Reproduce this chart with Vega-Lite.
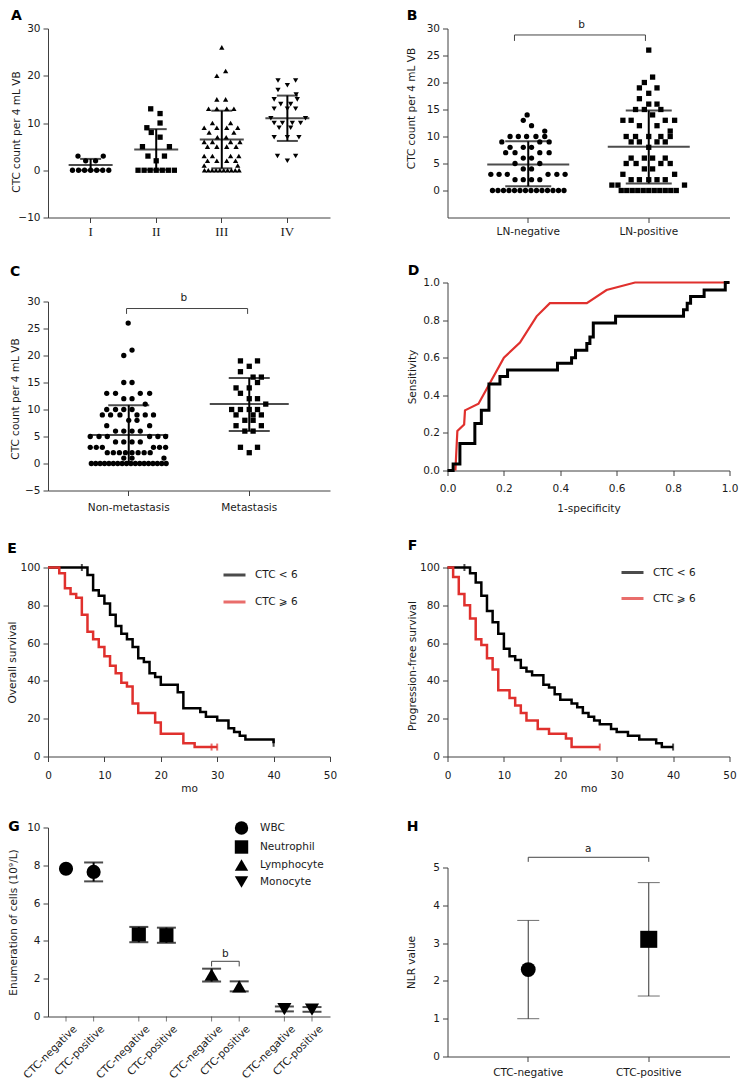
{
"$schema": "https://vega.github.io/schema/vega-lite/v6.json",
"background": "white",
"padding": {"left": 7, "top": 8.5, "right": 5, "bottom": 0},
"config": {
 "font": "DejaVu Sans",
 "view": {"stroke": null},
 "axis": {"grid": false, "labelFont": "DejaVu Sans", "titleFont": "DejaVu Sans", "labelFontSize": 10.5, "titleFontSize": 10.5, "titleFontWeight": "normal", "labelColor": "#1a1a1a", "titleColor": "#1a1a1a", "domainColor": "#404040", "tickColor": "#404040", "tickSize": 5, "labelPadding": 3, "labelFlush": false, "labelOverlap": false},
 "axisX": {"labelPadding": 4},
 "title": {"anchor": "start", "frame": "bounds", "font": "DejaVu Sans", "fontSize": 14, "fontWeight": "bold", "color": "#000", "baseline": "alphabetic"},
 "legend": {"labelFont": "DejaVu Sans", "labelFontSize": 10.5, "labelColor": "#1a1a1a"},
 "text": {"font": "DejaVu Sans", "fontSize": 10.5, "color": "#1a1a1a"}
},
"datasets": {
 "A_pts": [
  {"g":"I","v":0,"s":-3.3},{"g":"I","v":0,"s":-2.2},{"g":"I","v":0,"s":-1.1},{"g":"I","v":0,"s":0},{"g":"I","v":0,"s":1.1},{"g":"I","v":0,"s":2.2},{"g":"I","v":0,"s":3.3},{"g":"I","v":3,"s":-2.3},{"g":"I","v":3,"s":2.3},{"g":"I","v":2,"s":-0.9},{"g":"I","v":2,"s":0.9},
  {"g":"II","v":0,"s":-3.3},{"g":"II","v":0,"s":-2.2},{"g":"II","v":0,"s":-1.1},{"g":"II","v":0,"s":0},{"g":"II","v":0,"s":1.1},{"g":"II","v":0,"s":2.2},{"g":"II","v":0,"s":3.3},{"g":"II","v":13,"s":-1},{"g":"II","v":12,"s":0.7},{"g":"II","v":10,"s":0.7},{"g":"II","v":9,"s":-1.7},{"g":"II","v":8,"s":-0.9},{"g":"II","v":7,"s":0.7},{"g":"II","v":5,"s":-2.5},{"g":"II","v":5,"s":2.4},{"g":"II","v":3,"s":-1.5},{"g":"II","v":3,"s":1.5},{"g":"II","v":2,"s":0},
  {"g":"III","v":26,"s":0},{"g":"III","v":21,"s":0.7},{"g":"III","v":20,"s":-0.9},{"g":"III","v":15,"s":-0.9},{"g":"III","v":15,"s":0.7},{"g":"III","v":13,"s":-2.4},{"g":"III","v":13,"s":-0.9},{"g":"III","v":13,"s":0.9},{"g":"III","v":13,"s":2.2},{"g":"III","v":10,"s":-1.7},{"g":"III","v":10,"s":1.6},{"g":"III","v":9,"s":-3.2},{"g":"III","v":9,"s":-0.9},{"g":"III","v":9,"s":0.9},{"g":"III","v":9,"s":2.9},{"g":"III","v":8,"s":-2.3},{"g":"III","v":8,"s":2.2},{"g":"III","v":7,"s":-0.8},{"g":"III","v":7,"s":0.8},{"g":"III","v":6,"s":-3.2},{"g":"III","v":6,"s":-1.7},{"g":"III","v":6,"s":1.6},{"g":"III","v":6,"s":3.3},{"g":"III","v":5,"s":-2.6},{"g":"III","v":5,"s":-0.9},{"g":"III","v":5,"s":0.9},{"g":"III","v":5,"s":2.6},{"g":"III","v":3,"s":-3.2},{"g":"III","v":3,"s":-1.7},{"g":"III","v":3,"s":1.6},{"g":"III","v":3,"s":3.1},{"g":"III","v":2,"s":-2.6},{"g":"III","v":2,"s":-0.9},{"g":"III","v":2,"s":0.9},{"g":"III","v":2,"s":2.5},{"g":"III","v":1,"s":-3.2},{"g":"III","v":1,"s":2.9},{"g":"III","v":0,"s":-3.15},{"g":"III","v":0,"s":-2.45},{"g":"III","v":0,"s":-1.75},{"g":"III","v":0,"s":-1.05},{"g":"III","v":0,"s":-0.35},{"g":"III","v":0,"s":0.35},{"g":"III","v":0,"s":1.05},{"g":"III","v":0,"s":1.75},{"g":"III","v":0,"s":2.45},{"g":"III","v":0,"s":3.15},
  {"g":"IV","v":19,"s":-1.7},{"g":"IV","v":19,"s":1.5},{"g":"IV","v":18,"s":0},{"g":"IV","v":17,"s":-1.7},{"g":"IV","v":16,"s":1.6},{"g":"IV","v":15,"s":-2.4},{"g":"IV","v":15,"s":1.8},{"g":"IV","v":14,"s":-1.2},{"g":"IV","v":14,"s":0.6},{"g":"IV","v":13,"s":-2.4},{"g":"IV","v":13,"s":0},{"g":"IV","v":13,"s":1.5},{"g":"IV","v":11,"s":-3},{"g":"IV","v":11,"s":3.3},{"g":"IV","v":10,"s":-2.4},{"g":"IV","v":10,"s":-0.9},{"g":"IV","v":10,"s":0.9},{"g":"IV","v":10,"s":2.4},{"g":"IV","v":9,"s":-1.5},{"g":"IV","v":9,"s":0.6},{"g":"IV","v":7,"s":-2.4},{"g":"IV","v":7,"s":0},{"g":"IV","v":7,"s":2.1},{"g":"IV","v":3,"s":-1.8},{"g":"IV","v":3,"s":1.5},{"g":"IV","v":2,"s":0}
 ],
 "A_sum": [{"g":"I","mean":1.1,"lo":0,"hi":2.4},{"g":"II","mean":4.4,"lo":0.1,"hi":8.7},{"g":"III","mean":6.5,"lo":0.4,"hi":12.6},{"g":"IV","mean":11,"lo":6.2,"hi":15.8}],
 "B_pts": [
  {"g":"LN-negative","v":0,"s":-6.5},{"g":"LN-negative","v":0,"s":-5.5},{"g":"LN-negative","v":0,"s":-4.5},{"g":"LN-negative","v":0,"s":-3.5},{"g":"LN-negative","v":0,"s":-2.5},{"g":"LN-negative","v":0,"s":-1.5},{"g":"LN-negative","v":0,"s":-0.5},{"g":"LN-negative","v":0,"s":0.5},{"g":"LN-negative","v":0,"s":1.5},{"g":"LN-negative","v":0,"s":2.5},{"g":"LN-negative","v":0,"s":3.5},{"g":"LN-negative","v":0,"s":4.5},{"g":"LN-negative","v":0,"s":5.5},{"g":"LN-negative","v":0,"s":6.5},
  {"g":"LN-negative","v":2,"s":-2.4},{"g":"LN-negative","v":2,"s":-0.9},{"g":"LN-negative","v":2,"s":0.6},{"g":"LN-negative","v":2,"s":2.1},
  {"g":"LN-negative","v":3,"s":-6.8},{"g":"LN-negative","v":3,"s":-5.3},{"g":"LN-negative","v":3,"s":-3.8},{"g":"LN-negative","v":3,"s":3.6},{"g":"LN-negative","v":3,"s":5.2},{"g":"LN-negative","v":3,"s":6.7},
  {"g":"LN-negative","v":4,"s":-0.9},{"g":"LN-negative","v":4,"s":0.6},{"g":"LN-negative","v":5,"s":-2.4},{"g":"LN-negative","v":5,"s":2.1},{"g":"LN-negative","v":6,"s":-0.9},{"g":"LN-negative","v":6,"s":0.6},
  {"g":"LN-negative","v":7,"s":-4.1},{"g":"LN-negative","v":7,"s":-2.4},{"g":"LN-negative","v":7,"s":2.1},{"g":"LN-negative","v":7,"s":3.8},
  {"g":"LN-negative","v":8,"s":-3.3},{"g":"LN-negative","v":8,"s":-0.9},{"g":"LN-negative","v":8,"s":0.6},
  {"g":"LN-negative","v":9,"s":-4.8},{"g":"LN-negative","v":9,"s":2.1},{"g":"LN-negative","v":9,"s":3.8},
  {"g":"LN-negative","v":10,"s":-3.3},{"g":"LN-negative","v":10,"s":-1.8},{"g":"LN-negative","v":10,"s":-0.3},{"g":"LN-negative","v":10,"s":1.4},{"g":"LN-negative","v":10,"s":3.0},
  {"g":"LN-negative","v":11,"s":3.0},{"g":"LN-negative","v":12,"s":0.6},{"g":"LN-negative","v":13,"s":-0.9},{"g":"LN-negative","v":14,"s":-0.2},
  {"g":"LN-positive","v":26,"s":0},{"g":"LN-positive","v":21,"s":0.7},{"g":"LN-positive","v":20,"s":-0.8},{"g":"LN-positive","v":19,"s":-1.7},{"g":"LN-positive","v":19,"s":1.5},{"g":"LN-positive","v":18,"s":0},{"g":"LN-positive","v":17,"s":-1.7},{"g":"LN-positive","v":16,"s":0},{"g":"LN-positive","v":16,"s":1.5},
  {"g":"LN-positive","v":15,"s":-2.4},{"g":"LN-positive","v":15,"s":-0.8},{"g":"LN-positive","v":15,"s":2.2},{"g":"LN-positive","v":14,"s":0.7},
  {"g":"LN-positive","v":13,"s":-4.7},{"g":"LN-positive","v":13,"s":-3.2},{"g":"LN-positive","v":13,"s":3.0},{"g":"LN-positive","v":13,"s":4.7},
  {"g":"LN-positive","v":12,"s":-1.7},{"g":"LN-positive","v":12,"s":1.5},{"g":"LN-positive","v":11,"s":3.9},
  {"g":"LN-positive","v":10,"s":-4.1},{"g":"LN-positive","v":10,"s":-2.4},{"g":"LN-positive","v":10,"s":0},{"g":"LN-positive","v":10,"s":2.2},{"g":"LN-positive","v":10,"s":3.9},
  {"g":"LN-positive","v":9,"s":-3.2},{"g":"LN-positive","v":9,"s":-1.7},{"g":"LN-positive","v":9,"s":1.5},{"g":"LN-positive","v":9,"s":3.0},{"g":"LN-positive","v":8,"s":0},
  {"g":"LN-positive","v":6,"s":-3.2},{"g":"LN-positive","v":6,"s":-0.8},{"g":"LN-positive","v":6,"s":0.7},{"g":"LN-positive","v":6,"s":3.0},
  {"g":"LN-positive","v":5,"s":-4.1},{"g":"LN-positive","v":5,"s":-2.3},{"g":"LN-positive","v":5,"s":2.2},{"g":"LN-positive","v":5,"s":3.9},
  {"g":"LN-positive","v":4,"s":-0.8},{"g":"LN-positive","v":4,"s":0.7},{"g":"LN-positive","v":3,"s":-4.7},{"g":"LN-positive","v":3,"s":4.7},
  {"g":"LN-positive","v":2,"s":-3.2},{"g":"LN-positive","v":2,"s":-1.7},{"g":"LN-positive","v":2,"s":0},{"g":"LN-positive","v":2,"s":1.5},{"g":"LN-positive","v":2,"s":3.0},
  {"g":"LN-positive","v":1,"s":-6.7},{"g":"LN-positive","v":1,"s":-5.6},{"g":"LN-positive","v":1,"s":6.5},
  {"g":"LN-positive","v":0,"s":-5},{"g":"LN-positive","v":0,"s":-4},{"g":"LN-positive","v":0,"s":-3},{"g":"LN-positive","v":0,"s":-2},{"g":"LN-positive","v":0,"s":-1},{"g":"LN-positive","v":0,"s":0},{"g":"LN-positive","v":0,"s":1},{"g":"LN-positive","v":0,"s":2},{"g":"LN-positive","v":0,"s":3},{"g":"LN-positive","v":0,"s":4},{"g":"LN-positive","v":0,"s":5}
 ],
 "B_sum": [{"g":"LN-negative","mean":4.8,"lo":0.8,"hi":9.1},{"g":"LN-positive","mean":8.1,"lo":1.3,"hi":14.8}],
 "B_br": [{"g":"LN-negative","s":-2.5,"y":27.7,"k":1},{"g":"LN-negative","s":-2.5,"y":28.8,"k":2},{"g":"LN-positive","s":-0.6,"y":28.8,"k":3},{"g":"LN-positive","s":-0.6,"y":27.7,"k":4}],
 "B_lbl": [{"g":"LN-negative","s":9.7,"y":30.6,"t":"b"}],
 "C_pts": [
  {"g":"Non-metastasis","v":26,"s":-0.1},{"g":"Non-metastasis","v":21,"s":0.6},{"g":"Non-metastasis","v":20,"s":-0.9},{"g":"Non-metastasis","v":15,"s":-0.9},{"g":"Non-metastasis","v":15,"s":0.6},
  {"g":"Non-metastasis","v":13,"s":-4},{"g":"Non-metastasis","v":13,"s":-2.4},{"g":"Non-metastasis","v":13,"s":2.1},{"g":"Non-metastasis","v":13,"s":3.8},
  {"g":"Non-metastasis","v":12,"s":-0.9},{"g":"Non-metastasis","v":12,"s":0.6},{"g":"Non-metastasis","v":11,"s":3.0},
  {"g":"Non-metastasis","v":10,"s":-4},{"g":"Non-metastasis","v":10,"s":-2.4},{"g":"Non-metastasis","v":10,"s":-0.9},{"g":"Non-metastasis","v":10,"s":0.6},
  {"g":"Non-metastasis","v":9,"s":-4.8},{"g":"Non-metastasis","v":9,"s":-3.3},{"g":"Non-metastasis","v":9,"s":-1.6},{"g":"Non-metastasis","v":9,"s":1.5},{"g":"Non-metastasis","v":9,"s":3.0},{"g":"Non-metastasis","v":9,"s":4.5},
  {"g":"Non-metastasis","v":8,"s":0},{"g":"Non-metastasis","v":8,"s":1.5},{"g":"Non-metastasis","v":7,"s":-4},{"g":"Non-metastasis","v":7,"s":3.8},
  {"g":"Non-metastasis","v":6,"s":-2.4},{"g":"Non-metastasis","v":6,"s":-0.9},{"g":"Non-metastasis","v":6,"s":0.6},{"g":"Non-metastasis","v":6,"s":2.1},
  {"g":"Non-metastasis","v":5,"s":-7},{"g":"Non-metastasis","v":5,"s":-5.4},{"g":"Non-metastasis","v":5,"s":-3.9},{"g":"Non-metastasis","v":5,"s":3.8},{"g":"Non-metastasis","v":5,"s":5.3},{"g":"Non-metastasis","v":5,"s":6.7},
  {"g":"Non-metastasis","v":4,"s":-2.4},{"g":"Non-metastasis","v":4,"s":-0.9},{"g":"Non-metastasis","v":4,"s":0.6},{"g":"Non-metastasis","v":4,"s":2.1},
  {"g":"Non-metastasis","v":3,"s":-7},{"g":"Non-metastasis","v":3,"s":-5.9},{"g":"Non-metastasis","v":3,"s":-4.8},{"g":"Non-metastasis","v":3,"s":4.5},{"g":"Non-metastasis","v":3,"s":5.6},{"g":"Non-metastasis","v":3,"s":6.7},
  {"g":"Non-metastasis","v":2,"s":-3.9},{"g":"Non-metastasis","v":2,"s":-2.8},{"g":"Non-metastasis","v":2,"s":-1.7},{"g":"Non-metastasis","v":2,"s":-0.6},{"g":"Non-metastasis","v":2,"s":0.6},{"g":"Non-metastasis","v":2,"s":1.7},{"g":"Non-metastasis","v":2,"s":2.8},{"g":"Non-metastasis","v":2,"s":3.9},
  {"g":"Non-metastasis","v":1,"s":-0.9},{"g":"Non-metastasis","v":1,"s":0.6},{"g":"Non-metastasis","v":1,"s":6.4},
  {"g":"Non-metastasis","v":0,"s":-6.8},{"g":"Non-metastasis","v":0,"s":-6.0},{"g":"Non-metastasis","v":0,"s":-5.2},{"g":"Non-metastasis","v":0,"s":-4.4},{"g":"Non-metastasis","v":0,"s":-3.6},{"g":"Non-metastasis","v":0,"s":-2.8},{"g":"Non-metastasis","v":0,"s":-2.0},{"g":"Non-metastasis","v":0,"s":-1.2},{"g":"Non-metastasis","v":0,"s":-0.4},{"g":"Non-metastasis","v":0,"s":0.4},{"g":"Non-metastasis","v":0,"s":1.2},{"g":"Non-metastasis","v":0,"s":2.0},{"g":"Non-metastasis","v":0,"s":2.8},{"g":"Non-metastasis","v":0,"s":3.6},{"g":"Non-metastasis","v":0,"s":4.4},{"g":"Non-metastasis","v":0,"s":5.2},{"g":"Non-metastasis","v":0,"s":6.0},{"g":"Non-metastasis","v":0,"s":6.8},
  {"g":"Metastasis","v":19,"s":-1.6},{"g":"Metastasis","v":19,"s":1.5},{"g":"Metastasis","v":18,"s":0},{"g":"Metastasis","v":17,"s":-1.6},{"g":"Metastasis","v":16,"s":0.7},{"g":"Metastasis","v":16,"s":2.2},{"g":"Metastasis","v":15,"s":1.5},
  {"g":"Metastasis","v":14,"s":-2.4},{"g":"Metastasis","v":14,"s":0},{"g":"Metastasis","v":13,"s":-1.6},{"g":"Metastasis","v":12,"s":0},{"g":"Metastasis","v":12,"s":1.5},{"g":"Metastasis","v":11,"s":3.0},
  {"g":"Metastasis","v":10,"s":-3.2},{"g":"Metastasis","v":10,"s":-1.6},{"g":"Metastasis","v":10,"s":0},{"g":"Metastasis","v":10,"s":1.5},
  {"g":"Metastasis","v":9,"s":-2.4},{"g":"Metastasis","v":9,"s":0.7},{"g":"Metastasis","v":9,"s":2.2},{"g":"Metastasis","v":8,"s":-0.8},{"g":"Metastasis","v":8,"s":0.7},
  {"g":"Metastasis","v":7,"s":-2.4},{"g":"Metastasis","v":7,"s":2.2},{"g":"Metastasis","v":6,"s":-0.8},{"g":"Metastasis","v":6,"s":0.7},{"g":"Metastasis","v":3,"s":-1.6},{"g":"Metastasis","v":3,"s":1.5},{"g":"Metastasis","v":2,"s":0}
 ],
 "C_sum": [{"g":"Non-metastasis","mean":5.3,"lo":0,"hi":10.8},{"g":"Metastasis","mean":11,"lo":6,"hi":15.85}],
 "C_br": [{"g":"Non-metastasis","s":-0.4,"y":27.7,"k":1},{"g":"Non-metastasis","s":-0.4,"y":28.7,"k":2},{"g":"Metastasis","s":-0.3,"y":28.7,"k":3},{"g":"Metastasis","s":-0.3,"y":27.7,"k":4}],
 "C_lbl": [{"g":"Non-metastasis","s":10,"y":30.6,"t":"b"}],
 "D_black": [{"x":0,"y":0},{"x":0.02,"y":0.035},{"x":0.044,"y":0.143},{"x":0.097,"y":0.25},{"x":0.12,"y":0.32},{"x":0.147,"y":0.46},{"x":0.186,"y":0.5},{"x":0.213,"y":0.535},{"x":0.39,"y":0.57},{"x":0.44,"y":0.6},{"x":0.454,"y":0.64},{"x":0.494,"y":0.675},{"x":0.505,"y":0.71},{"x":0.517,"y":0.785},{"x":0.596,"y":0.82},{"x":0.837,"y":0.855},{"x":0.85,"y":0.89},{"x":0.862,"y":0.925},{"x":0.91,"y":0.96},{"x":0.985,"y":1},{"x":1,"y":1}],
 "D_red": [{"x":0.028,"y":0},{"x":0.035,"y":0.21},{"x":0.059,"y":0.245},{"x":0.062,"y":0.32},{"x":0.11,"y":0.355},{"x":0.2,"y":0.6},{"x":0.257,"y":0.68},{"x":0.316,"y":0.82},{"x":0.363,"y":0.89},{"x":0.494,"y":0.89},{"x":0.564,"y":0.96},{"x":0.665,"y":1},{"x":1,"y":1}],
 "E_km": [
  {"g":"CTC < 6","t":0,"s":100},{"g":"CTC < 6","t":7,"s":96},{"g":"CTC < 6","t":8,"s":88},{"g":"CTC < 6","t":9,"s":85},{"g":"CTC < 6","t":10,"s":81},{"g":"CTC < 6","t":11,"s":75},{"g":"CTC < 6","t":12,"s":69},{"g":"CTC < 6","t":13,"s":65},{"g":"CTC < 6","t":14,"s":62},{"g":"CTC < 6","t":15,"s":58},{"g":"CTC < 6","t":16,"s":52},{"g":"CTC < 6","t":17,"s":50},{"g":"CTC < 6","t":18,"s":44},{"g":"CTC < 6","t":19,"s":42},{"g":"CTC < 6","t":20,"s":38},{"g":"CTC < 6","t":23,"s":34},{"g":"CTC < 6","t":24,"s":25.5},{"g":"CTC < 6","t":27,"s":23.5},{"g":"CTC < 6","t":28,"s":21},{"g":"CTC < 6","t":30,"s":19},{"g":"CTC < 6","t":32,"s":15},{"g":"CTC < 6","t":33,"s":13},{"g":"CTC < 6","t":34,"s":11},{"g":"CTC < 6","t":35,"s":9},{"g":"CTC < 6","t":40,"s":7},
  {"g":"CTC ⩾ 6","t":0,"s":100},{"g":"CTC ⩾ 6","t":2,"s":97},{"g":"CTC ⩾ 6","t":3,"s":89},{"g":"CTC ⩾ 6","t":4,"s":86},{"g":"CTC ⩾ 6","t":5,"s":84},{"g":"CTC ⩾ 6","t":6,"s":75},{"g":"CTC ⩾ 6","t":7,"s":66},{"g":"CTC ⩾ 6","t":8,"s":62},{"g":"CTC ⩾ 6","t":9,"s":58},{"g":"CTC ⩾ 6","t":10,"s":53},{"g":"CTC ⩾ 6","t":11,"s":48},{"g":"CTC ⩾ 6","t":12,"s":44},{"g":"CTC ⩾ 6","t":13,"s":39},{"g":"CTC ⩾ 6","t":14,"s":37},{"g":"CTC ⩾ 6","t":15,"s":28},{"g":"CTC ⩾ 6","t":16,"s":23},{"g":"CTC ⩾ 6","t":19,"s":18},{"g":"CTC ⩾ 6","t":20,"s":12},{"g":"CTC ⩾ 6","t":24,"s":7},{"g":"CTC ⩾ 6","t":26,"s":5},{"g":"CTC ⩾ 6","t":30,"s":5}
 ],
 "E_cens": [{"g":"CTC < 6","t":6,"s":100},{"g":"CTC < 6","t":40,"s":7},{"g":"CTC ⩾ 6","t":29,"s":5},{"g":"CTC ⩾ 6","t":30,"s":5}],
 "F_km": [
  {"g":"CTC < 6","t":0,"s":100},{"g":"CTC < 6","t":4,"s":97},{"g":"CTC < 6","t":5,"s":92},{"g":"CTC < 6","t":6,"s":85},{"g":"CTC < 6","t":7,"s":77},{"g":"CTC < 6","t":8,"s":71},{"g":"CTC < 6","t":9,"s":65},{"g":"CTC < 6","t":10,"s":57},{"g":"CTC < 6","t":11,"s":53},{"g":"CTC < 6","t":12,"s":51},{"g":"CTC < 6","t":13,"s":47},{"g":"CTC < 6","t":14,"s":45},{"g":"CTC < 6","t":15,"s":43},{"g":"CTC < 6","t":17,"s":38},{"g":"CTC < 6","t":18,"s":36.5},{"g":"CTC < 6","t":19,"s":33},{"g":"CTC < 6","t":20,"s":30},{"g":"CTC < 6","t":22,"s":28},{"g":"CTC < 6","t":23,"s":26},{"g":"CTC < 6","t":24,"s":23},{"g":"CTC < 6","t":25,"s":21},{"g":"CTC < 6","t":26,"s":19},{"g":"CTC < 6","t":27,"s":17},{"g":"CTC < 6","t":29,"s":14.5},{"g":"CTC < 6","t":30,"s":13},{"g":"CTC < 6","t":32,"s":11},{"g":"CTC < 6","t":34,"s":9},{"g":"CTC < 6","t":37,"s":7},{"g":"CTC < 6","t":38,"s":5},{"g":"CTC < 6","t":40,"s":5},
  {"g":"CTC ⩾ 6","t":0,"s":100},{"g":"CTC ⩾ 6","t":1,"s":95},{"g":"CTC ⩾ 6","t":2,"s":86},{"g":"CTC ⩾ 6","t":3,"s":80},{"g":"CTC ⩾ 6","t":4,"s":73},{"g":"CTC ⩾ 6","t":5,"s":62},{"g":"CTC ⩾ 6","t":6,"s":59},{"g":"CTC ⩾ 6","t":7,"s":52},{"g":"CTC ⩾ 6","t":8,"s":46},{"g":"CTC ⩾ 6","t":9,"s":35},{"g":"CTC ⩾ 6","t":11,"s":31},{"g":"CTC ⩾ 6","t":12,"s":27},{"g":"CTC ⩾ 6","t":13,"s":23},{"g":"CTC ⩾ 6","t":14,"s":19},{"g":"CTC ⩾ 6","t":16,"s":14.5},{"g":"CTC ⩾ 6","t":18,"s":12},{"g":"CTC ⩾ 6","t":21,"s":9.5},{"g":"CTC ⩾ 6","t":22,"s":5},{"g":"CTC ⩾ 6","t":27,"s":5}
 ],
 "F_cens": [{"g":"CTC < 6","t":3,"s":100},{"g":"CTC < 6","t":40,"s":5},{"g":"CTC ⩾ 6","t":27,"s":5}],
 "G_pts": [{"cell":"WBC","status":"CTC-negative","mean":7.82},{"cell":"WBC","status":"CTC-positive","mean":7.65},{"cell":"Neutrophil","status":"CTC-negative","mean":4.34},{"cell":"Neutrophil","status":"CTC-positive","mean":4.3},{"cell":"Lymphocyte","status":"CTC-negative","mean":2.21},{"cell":"Lymphocyte","status":"CTC-positive","mean":1.6},{"cell":"Monocyte","status":"CTC-negative","mean":0.39},{"cell":"Monocyte","status":"CTC-positive","mean":0.37}],
 "G_err": [{"cell":"WBC","status":"CTC-positive","lo":7.15,"hi":8.15},{"cell":"Neutrophil","status":"CTC-negative","lo":3.93,"hi":4.74},{"cell":"Neutrophil","status":"CTC-positive","lo":3.9,"hi":4.7},{"cell":"Lymphocyte","status":"CTC-negative","lo":1.85,"hi":2.53},{"cell":"Lymphocyte","status":"CTC-positive","lo":1.33,"hi":1.86},{"cell":"Monocyte","status":"CTC-negative","lo":0.27,"hi":0.53},{"cell":"Monocyte","status":"CTC-positive","lo":0.25,"hi":0.5}],
 "G_br": [{"cell":"Lymphocyte","status":"CTC-negative","y":2.65,"k":1},{"cell":"Lymphocyte","status":"CTC-negative","y":2.92,"k":2},{"cell":"Lymphocyte","status":"CTC-positive","y":2.92,"k":3},{"cell":"Lymphocyte","status":"CTC-positive","y":2.65,"k":4}],
 "G_lbl": [{"cell":"Lymphocyte","y":3.33,"t":"b"}],
 "H_pts": [{"g":"CTC-negative","mean":2.3,"lo":1.0,"hi":3.6},{"g":"CTC-positive","mean":3.1,"lo":1.6,"hi":4.6}],
 "H_br": [{"g":"CTC-negative","y":5.15,"k":1},{"g":"CTC-negative","y":5.27,"k":2},{"g":"CTC-positive","y":5.27,"k":3},{"g":"CTC-positive","y":5.15,"k":4}],
 "H_lbl": [{"g":"CTC-negative","y":5.5,"t":"a"}]
},
"columns": 2,
"spacing": {"row": 0, "column": 117.5},
"bounds": "flush",
"resolve": {"scale": {"color": "independent", "shape": "independent", "size": "independent", "xOffset": "independent"}, "legend": {"color": "independent", "shape": "independent", "size": "independent"}},
"concat": [
 {
  "width": 282, "height": 189,
  "title": {"text": "A", "offset": 0.5},
  "encoding": {"x": {"field": "g", "type": "nominal", "scale": {"type": "band", "domain": ["I","II","III","IV"], "paddingInner": 0, "paddingOuter": 0.15}, "axis": {"title": null, "labelAngle": 0, "labelFont": "Liberation Serif", "labelFontSize": 13, "labelPadding": 3}}},
  "layer": [
   {"data": {"name": "A_pts"}, "mark": {"type": "point", "filled": true, "opacity": 1, "color": "#000", "size": 28},
    "encoding": {
     "xOffset": {"field": "s", "type": "quantitative", "scale": {"domain": [-5.96, 5.96], "range": [0, 65.58]}},
     "y": {"field": "v", "type": "quantitative", "scale": {"domain": [-10, 30], "nice": false, "zero": false}, "axis": {"values": [-10,0,10,20,30], "title": "CTC count per 4 mL VB", "titleX": -27, "titleY": 103}},
     "shape": {"field": "g", "type": "nominal", "scale": {"domain": ["I","II","III","IV"], "range": ["circle","square","triangle-up","triangle-down"]}, "legend": null}}},
   {"data": {"name": "A_sum"}, "mark": {"type": "tick", "color": "#000", "size": 44, "thickness": 2},
    "encoding": {"y": {"field": "mean", "type": "quantitative", "scale": {"domain": [-10, 30], "nice": false, "zero": false}, "axis": {"values": [-10,0,10,20,30], "title": "CTC count per 4 mL VB", "titleX": -27, "titleY": 103}}}},
   {"data": {"name": "A_sum"}, "mark": {"type": "rule", "color": "#000", "strokeWidth": 2},
    "encoding": {"y": {"field": "lo", "type": "quantitative", "scale": {"domain": [-10, 30], "nice": false, "zero": false}, "axis": {"values": [-10,0,10,20,30], "title": "CTC count per 4 mL VB", "titleX": -27, "titleY": 103}}, "y2": {"field": "hi"}}},
   {"data": {"name": "A_sum"}, "mark": {"type": "tick", "color": "#000", "size": 21, "thickness": 2},
    "encoding": {"y": {"field": "lo", "type": "quantitative", "scale": {"domain": [-10, 30], "nice": false, "zero": false}, "axis": {"values": [-10,0,10,20,30], "title": "CTC count per 4 mL VB", "titleX": -27, "titleY": 103}}}},
   {"data": {"name": "A_sum"}, "mark": {"type": "tick", "color": "#000", "size": 21, "thickness": 2},
    "encoding": {"y": {"field": "hi", "type": "quantitative", "scale": {"domain": [-10, 30], "nice": false, "zero": false}, "axis": {"values": [-10,0,10,20,30], "title": "CTC count per 4 mL VB", "titleX": -27, "titleY": 103}}}}
  ]
 },
 {
  "width": 282, "height": 189,
  "title": {"text": "B", "offset": -3},
  "encoding": {"x": {"field": "g", "type": "nominal", "scale": {"type": "band", "domain": ["LN-negative","LN-positive"], "paddingInner": 0, "paddingOuter": 0.17}, "axis": {"title": null, "labelAngle": 0, "labelPadding": 4}}},
  "layer": [
   {"data": {"name": "B_pts"}, "mark": {"type": "point", "filled": true, "opacity": 1, "color": "#000", "size": 28},
    "encoding": {
     "xOffset": {"field": "s", "type": "quantitative", "scale": {"domain": [-10.95, 10.95], "range": [0, 120.5]}},
     "y": {"field": "v", "type": "quantitative", "scale": {"domain": [-5, 30], "nice": false, "zero": false}, "axis": {"values": [0,5,10,15,20,25,30], "title": "CTC count per 4 mL VB", "titleX": -30.8, "titleY": 79.5}},
     "shape": {"field": "g", "type": "nominal", "scale": {"domain": ["LN-negative","LN-positive"], "range": ["circle","square"]}, "legend": null}}},
   {"data": {"name": "B_sum"}, "mark": {"type": "tick", "color": "#000", "size": 82, "thickness": 2},
    "encoding": {"y": {"field": "mean", "type": "quantitative", "scale": {"domain": [-5, 30], "nice": false, "zero": false}, "axis": {"values": [0,5,10,15,20,25,30], "title": "CTC count per 4 mL VB", "titleX": -30.8, "titleY": 79.5}}}},
   {"data": {"name": "B_sum"}, "mark": {"type": "rule", "color": "#000", "strokeWidth": 2},
    "encoding": {"y": {"field": "lo", "type": "quantitative", "scale": {"domain": [-5, 30], "nice": false, "zero": false}, "axis": {"values": [0,5,10,15,20,25,30], "title": "CTC count per 4 mL VB", "titleX": -30.8, "titleY": 79.5}}, "y2": {"field": "hi"}}},
   {"data": {"name": "B_sum"}, "mark": {"type": "tick", "color": "#000", "size": 46, "thickness": 2},
    "encoding": {"y": {"field": "lo", "type": "quantitative", "scale": {"domain": [-5, 30], "nice": false, "zero": false}, "axis": {"values": [0,5,10,15,20,25,30], "title": "CTC count per 4 mL VB", "titleX": -30.8, "titleY": 79.5}}}},
   {"data": {"name": "B_sum"}, "mark": {"type": "tick", "color": "#000", "size": 46, "thickness": 2},
    "encoding": {"y": {"field": "hi", "type": "quantitative", "scale": {"domain": [-5, 30], "nice": false, "zero": false}, "axis": {"values": [0,5,10,15,20,25,30], "title": "CTC count per 4 mL VB", "titleX": -30.8, "titleY": 79.5}}}},
   {"data": {"name": "B_br"}, "mark": {"type": "line", "color": "#444", "strokeWidth": 1},
    "encoding": {"xOffset": {"field": "s", "type": "quantitative", "scale": {"domain": [-10.95, 10.95], "range": [0, 120.5]}}, "y": {"field": "y", "type": "quantitative", "scale": {"domain": [-5, 30], "nice": false, "zero": false}, "axis": {"values": [0,5,10,15,20,25,30], "title": "CTC count per 4 mL VB", "titleX": -30.8, "titleY": 79.5}}, "order": {"field": "k"}}},
   {"data": {"name": "B_lbl"}, "mark": {"type": "text", "baseline": "middle"},
    "encoding": {"xOffset": {"field": "s", "type": "quantitative", "scale": {"domain": [-10.95, 10.95], "range": [0, 120.5]}}, "y": {"field": "y", "type": "quantitative", "scale": {"domain": [-5, 30], "nice": false, "zero": false}, "axis": {"values": [0,5,10,15,20,25,30], "title": "CTC count per 4 mL VB", "titleX": -30.8, "titleY": 79.5}}, "text": {"field": "t"}}}
  ]
 },
 {"width": 282, "height": 65, "data": {"values": []}, "mark": "point"},
 {"width": 282, "height": 65, "data": {"values": []}, "mark": "point"},
 {
  "width": 282, "height": 208,
  "title": {"text": "C", "offset": 4},
  "encoding": {"x": {"field": "g", "type": "nominal", "scale": {"type": "band", "domain": ["Non-metastasis","Metastasis"], "paddingInner": 0, "paddingOuter": 0.17}, "axis": {"title": null, "labelAngle": 0, "labelPadding": 6.5}}},
  "layer": [
   {"data": {"name": "C_pts"}, "mark": {"type": "point", "filled": true, "opacity": 1, "color": "#000", "size": 28},
    "encoding": {
     "xOffset": {"field": "s", "type": "quantitative", "scale": {"domain": [-10.95, 10.95], "range": [0, 120.5]}},
     "y": {"field": "v", "type": "quantitative", "scale": {"domain": [-5, 30], "range": [208, 19], "nice": false, "zero": false}, "axis": {"values": [-5,0,5,10,15,20,25,30], "title": "CTC count per 4 mL VB", "titleX": -28, "titleY": 116}},
     "shape": {"field": "g", "type": "nominal", "scale": {"domain": ["Non-metastasis","Metastasis"], "range": ["circle","square"]}, "legend": null}}},
   {"data": {"name": "C_sum"}, "mark": {"type": "tick", "color": "#000", "size": 79, "thickness": 2},
    "encoding": {"y": {"field": "mean", "type": "quantitative", "scale": {"domain": [-5, 30], "range": [208, 19], "nice": false, "zero": false}, "axis": {"values": [-5,0,5,10,15,20,25,30], "title": "CTC count per 4 mL VB", "titleX": -28, "titleY": 116}}}},
   {"data": {"name": "C_sum"}, "mark": {"type": "rule", "color": "#000", "strokeWidth": 2},
    "encoding": {"y": {"field": "lo", "type": "quantitative", "scale": {"domain": [-5, 30], "range": [208, 19], "nice": false, "zero": false}, "axis": {"values": [-5,0,5,10,15,20,25,30], "title": "CTC count per 4 mL VB", "titleX": -28, "titleY": 116}}, "y2": {"field": "hi"}}},
   {"data": {"name": "C_sum"}, "mark": {"type": "tick", "color": "#000", "size": 41, "thickness": 2},
    "encoding": {"y": {"field": "lo", "type": "quantitative", "scale": {"domain": [-5, 30], "range": [208, 19], "nice": false, "zero": false}, "axis": {"values": [-5,0,5,10,15,20,25,30], "title": "CTC count per 4 mL VB", "titleX": -28, "titleY": 116}}}},
   {"data": {"name": "C_sum"}, "mark": {"type": "tick", "color": "#000", "size": 41, "thickness": 2},
    "encoding": {"y": {"field": "hi", "type": "quantitative", "scale": {"domain": [-5, 30], "range": [208, 19], "nice": false, "zero": false}, "axis": {"values": [-5,0,5,10,15,20,25,30], "title": "CTC count per 4 mL VB", "titleX": -28, "titleY": 116}}}},
   {"data": {"name": "C_br"}, "mark": {"type": "line", "color": "#444", "strokeWidth": 1},
    "encoding": {"xOffset": {"field": "s", "type": "quantitative", "scale": {"domain": [-10.95, 10.95], "range": [0, 120.5]}}, "y": {"field": "y", "type": "quantitative", "scale": {"domain": [-5, 30], "range": [208, 19], "nice": false, "zero": false}, "axis": {"values": [-5,0,5,10,15,20,25,30], "title": "CTC count per 4 mL VB", "titleX": -28, "titleY": 116}}, "order": {"field": "k"}}},
   {"data": {"name": "C_lbl"}, "mark": {"type": "text", "baseline": "middle"},
    "encoding": {"xOffset": {"field": "s", "type": "quantitative", "scale": {"domain": [-10.95, 10.95], "range": [0, 120.5]}}, "y": {"field": "y", "type": "quantitative", "scale": {"domain": [-5, 30], "range": [208, 19], "nice": false, "zero": false}, "axis": {"values": [-5,0,5,10,15,20,25,30], "title": "CTC count per 4 mL VB", "titleX": -28, "titleY": 116}}, "text": {"field": "t"}}}
  ]
 },
 {
  "width": 282, "height": 188,
  "title": {"text": "D", "offset": -1},
  "encoding": {
   "x": {"field": "x", "type": "quantitative", "scale": {"domain": [0, 1], "nice": false}, "axis": {"values": [0,0.2,0.4,0.6,0.8,1], "format": ".1f", "title": "1-specificity", "labelPadding": 7.5, "titlePadding": 9.5}},
   "y": {"field": "y", "type": "quantitative", "scale": {"domain": [0, 1], "nice": false}, "axis": {"values": [0,0.2,0.4,0.6,0.8,1], "format": ".1f", "title": "Sensitivity", "titleX": -29.8, "titleY": 94}}
  },
  "layer": [
   {"data": {"name": "D_red"}, "mark": {"type": "line", "color": "#e0302d", "strokeWidth": 2.2}},
   {"data": {"name": "D_black"}, "mark": {"type": "line", "color": "#000", "strokeWidth": 3, "interpolate": "step-after"}}
  ]
 },
 {"width": 282, "height": 77, "data": {"values": []}, "mark": "point"},
 {"width": 282, "height": 77, "data": {"values": []}, "mark": "point"},
 {
  "width": 282, "height": 189,
  "title": {"text": "E", "offset": 7},
  "encoding": {
   "x": {"field": "t", "type": "quantitative", "scale": {"domain": [0, 50], "nice": false}, "axis": {"values": [0,10,20,30,40,50], "title": "mo", "labelPadding": 9, "titlePadding": 2}},
   "y": {"field": "s", "type": "quantitative", "scale": {"domain": [0, 100], "nice": false}, "axis": {"values": [0,20,40,60,80,100], "title": "Overall survival", "titleX": -30.7, "titleY": 94.5}},
   "color": {"field": "g", "type": "nominal", "scale": {"domain": ["CTC < 6", "CTC ⩾ 6"], "range": ["#000000", "#e0302d"]}, "legend": {"title": null, "orient": "none", "legendX": 174, "legendY": -5, "symbolType": "stroke", "symbolSize": 484, "symbolStrokeWidth": 3, "labelOffset": 8, "rowPadding": 8, "padding": 0, "labelFontSize": 10.5}}
  },
  "layer": [
   {"data": {"name": "E_km"}, "mark": {"type": "line", "interpolate": "step-after", "strokeWidth": 2.5}},
   {"data": {"name": "E_cens"}, "mark": {"type": "tick", "orient": "vertical", "size": 7, "thickness": 2}}
  ]
 },
 {
  "width": 282, "height": 189,
  "title": {"text": "F", "offset": 7},
  "encoding": {
   "x": {"field": "t", "type": "quantitative", "scale": {"domain": [0, 50], "nice": false}, "axis": {"values": [0,10,20,30,40,50], "title": "mo", "labelPadding": 9, "titlePadding": 2}},
   "y": {"field": "s", "type": "quantitative", "scale": {"domain": [0, 100], "nice": false}, "axis": {"values": [0,20,40,60,80,100], "title": "Progression-free survival", "titleX": -29.8, "titleY": 98}},
   "color": {"field": "g", "type": "nominal", "scale": {"domain": ["CTC < 6", "CTC ⩾ 6"], "range": ["#000000", "#e0302d"]}, "legend": {"title": null, "orient": "none", "legendX": 172.5, "legendY": -7.5, "symbolType": "stroke", "symbolSize": 484, "symbolStrokeWidth": 3, "labelOffset": 8, "rowPadding": 7, "padding": 0, "labelFontSize": 10.5}}
  },
  "layer": [
   {"data": {"name": "F_km"}, "mark": {"type": "line", "interpolate": "step-after", "strokeWidth": 2.5}},
   {"data": {"name": "F_cens"}, "mark": {"type": "tick", "orient": "vertical", "size": 7, "thickness": 2}}
  ]
 },
 {"width": 282, "height": 71, "data": {"values": []}, "mark": "point"},
 {"width": 282, "height": 71, "data": {"values": []}, "mark": "point"},
 {
  "width": 282, "height": 189,
  "title": {"text": "G", "offset": -13.5},
  "encoding": {"x": {"field": "cell", "type": "nominal", "scale": {"type": "band", "domain": ["WBC","Neutrophil","Lymphocyte","Monocyte"], "paddingInner": 0.126, "paddingOuter": 0}, "axis": {"labels": false, "ticks": false, "title": null}}},
  "layer": [
   {"data": {"name": "G_err"}, "mark": {"type": "rule", "color": "#000", "strokeWidth": 2},
    "encoding": {"xOffset": {"field": "status", "type": "nominal", "scale": {"type": "band", "domain": ["CTC-negative","CTC-positive"], "paddingInner": 0, "paddingOuter": 0.152}},
     "y": {"field": "lo", "type": "quantitative", "scale": {"domain": [0, 10], "nice": false}, "axis": {"values": [0,2,4,6,8,10], "title": "Enumeration of cells (10⁹/L)", "titleX": -29.7, "titleY": 94.5}}, "y2": {"field": "hi"}}},
   {"data": {"name": "G_err"}, "mark": {"type": "tick", "color": "#000", "size": 19, "thickness": 2},
    "encoding": {"xOffset": {"field": "status", "type": "nominal", "scale": {"type": "band", "domain": ["CTC-negative","CTC-positive"], "paddingInner": 0, "paddingOuter": 0.152}},
     "y": {"field": "lo", "type": "quantitative", "scale": {"domain": [0, 10], "nice": false}, "axis": {"values": [0,2,4,6,8,10], "title": "Enumeration of cells (10⁹/L)", "titleX": -29.7, "titleY": 94.5}}}},
   {"data": {"name": "G_err"}, "mark": {"type": "tick", "color": "#000", "size": 19, "thickness": 2},
    "encoding": {"xOffset": {"field": "status", "type": "nominal", "scale": {"type": "band", "domain": ["CTC-negative","CTC-positive"], "paddingInner": 0, "paddingOuter": 0.152}},
     "y": {"field": "hi", "type": "quantitative", "scale": {"domain": [0, 10], "nice": false}, "axis": {"values": [0,2,4,6,8,10], "title": "Enumeration of cells (10⁹/L)", "titleX": -29.7, "titleY": 94.5}}}},
   {"data": {"name": "G_pts"}, "mark": {"type": "point", "filled": true, "opacity": 1, "color": "#000", "size": 200},
    "encoding": {"xOffset": {"field": "status", "type": "nominal", "scale": {"type": "band", "domain": ["CTC-negative","CTC-positive"], "paddingInner": 0, "paddingOuter": 0.152}},
     "y": {"field": "mean", "type": "quantitative", "scale": {"domain": [0, 10], "nice": false}, "axis": {"values": [0,2,4,6,8,10], "title": "Enumeration of cells (10⁹/L)", "titleX": -29.7, "titleY": 94.5}},
     "shape": {"field": "cell", "type": "nominal", "scale": {"domain": ["WBC","Neutrophil","Lymphocyte","Monocyte"], "range": ["circle","square","triangle-up","triangle-down"]}, "legend": {"title": null, "orient": "none", "legendX": 186, "legendY": -7, "symbolFillColor": "#000", "symbolStrokeColor": "#000", "symbolSize": 180, "labelOffset": 11, "rowPadding": -2, "padding": 0, "labelFontSize": 10.5}}}},
   {"data": {"name": "G_pts"}, "mark": {"type": "tick", "orient": "vertical", "color": "#404040", "size": 5, "thickness": 1, "yOffset": 2.5},
    "encoding": {"xOffset": {"field": "status", "type": "nominal", "scale": {"type": "band", "domain": ["CTC-negative","CTC-positive"], "paddingInner": 0, "paddingOuter": 0.152}},
     "y": {"datum": 0, "type": "quantitative", "scale": {"domain": [0, 10], "nice": false}, "axis": {"values": [0,2,4,6,8,10], "title": "Enumeration of cells (10⁹/L)", "titleX": -29.7, "titleY": 94.5}}}},
   {"data": {"name": "G_pts"}, "mark": {"type": "text", "angle": 315, "align": "right", "baseline": "middle", "dx": -1.2, "dy": 14.4},
    "encoding": {"xOffset": {"field": "status", "type": "nominal", "scale": {"type": "band", "domain": ["CTC-negative","CTC-positive"], "paddingInner": 0, "paddingOuter": 0.152}},
     "y": {"datum": 0, "type": "quantitative", "scale": {"domain": [0, 10], "nice": false}, "axis": {"values": [0,2,4,6,8,10], "title": "Enumeration of cells (10⁹/L)", "titleX": -29.7, "titleY": 94.5}}, "text": {"field": "status"}}},
   {"data": {"name": "G_br"}, "mark": {"type": "line", "color": "#444", "strokeWidth": 1},
    "encoding": {"xOffset": {"field": "status", "type": "nominal", "scale": {"type": "band", "domain": ["CTC-negative","CTC-positive"], "paddingInner": 0, "paddingOuter": 0.152}},
     "y": {"field": "y", "type": "quantitative", "scale": {"domain": [0, 10], "nice": false}, "axis": {"values": [0,2,4,6,8,10], "title": "Enumeration of cells (10⁹/L)", "titleX": -29.7, "titleY": 94.5}}, "order": {"field": "k"}}},
   {"data": {"name": "G_lbl"}, "mark": {"type": "text", "baseline": "middle"},
    "encoding": {"y": {"field": "y", "type": "quantitative", "scale": {"domain": [0, 10], "nice": false}, "axis": {"values": [0,2,4,6,8,10], "title": "Enumeration of cells (10⁹/L)", "titleX": -29.7, "titleY": 94.5}}, "text": {"field": "t"}}}
  ]
 },
 {
  "width": 282, "height": 229,
  "title": {"text": "H", "offset": -6},
  "encoding": {"x": {"field": "g", "type": "nominal", "scale": {"type": "band", "domain": ["CTC-negative","CTC-positive"], "paddingInner": 0, "paddingOuter": 0.17}, "axis": {"title": null, "labelAngle": 0, "labelPadding": 6}}},
  "layer": [
   {"data": {"name": "H_pts"}, "mark": {"type": "rule", "color": "#333", "strokeWidth": 1},
    "encoding": {"y": {"field": "lo", "type": "quantitative", "scale": {"domain": [0, 5], "range": [229, 40], "nice": false}, "axis": {"values": [0,1,2,3,4,5], "title": "NLR value", "titleX": -30.8, "titleY": 134.5}}, "y2": {"field": "hi"}}},
   {"data": {"name": "H_pts"}, "mark": {"type": "tick", "color": "#333", "size": 22, "thickness": 1},
    "encoding": {"y": {"field": "lo", "type": "quantitative", "scale": {"domain": [0, 5], "range": [229, 40], "nice": false}, "axis": {"values": [0,1,2,3,4,5], "title": "NLR value", "titleX": -30.8, "titleY": 134.5}}}},
   {"data": {"name": "H_pts"}, "mark": {"type": "tick", "color": "#333", "size": 22, "thickness": 1},
    "encoding": {"y": {"field": "hi", "type": "quantitative", "scale": {"domain": [0, 5], "range": [229, 40], "nice": false}, "axis": {"values": [0,1,2,3,4,5], "title": "NLR value", "titleX": -30.8, "titleY": 134.5}}}},
   {"data": {"name": "H_pts"}, "mark": {"type": "point", "filled": true, "opacity": 1, "color": "#000"},
    "encoding": {"y": {"field": "mean", "type": "quantitative", "scale": {"domain": [0, 5], "range": [229, 40], "nice": false}, "axis": {"values": [0,1,2,3,4,5], "title": "NLR value", "titleX": -30.8, "titleY": 134.5}},
     "shape": {"field": "g", "type": "nominal", "scale": {"domain": ["CTC-negative","CTC-positive"], "range": ["circle","square"]}, "legend": null},
     "size": {"field": "g", "type": "ordinal", "scale": {"domain": ["CTC-negative","CTC-positive"], "range": [220, 290]}, "legend": null}}},
   {"data": {"name": "H_br"}, "mark": {"type": "line", "color": "#444", "strokeWidth": 1},
    "encoding": {"y": {"field": "y", "type": "quantitative", "scale": {"domain": [0, 5], "range": [229, 40], "nice": false}, "axis": {"values": [0,1,2,3,4,5], "title": "NLR value", "titleX": -30.8, "titleY": 134.5}}, "order": {"field": "k"}}},
   {"data": {"name": "H_lbl"}, "mark": {"type": "text", "baseline": "middle", "dx": 60},
    "encoding": {"y": {"field": "y", "type": "quantitative", "scale": {"domain": [0, 5], "range": [229, 40], "nice": false}, "axis": {"values": [0,1,2,3,4,5], "title": "NLR value", "titleX": -30.8, "titleY": 134.5}}, "text": {"field": "t"}}}
  ]
 }
]
}
